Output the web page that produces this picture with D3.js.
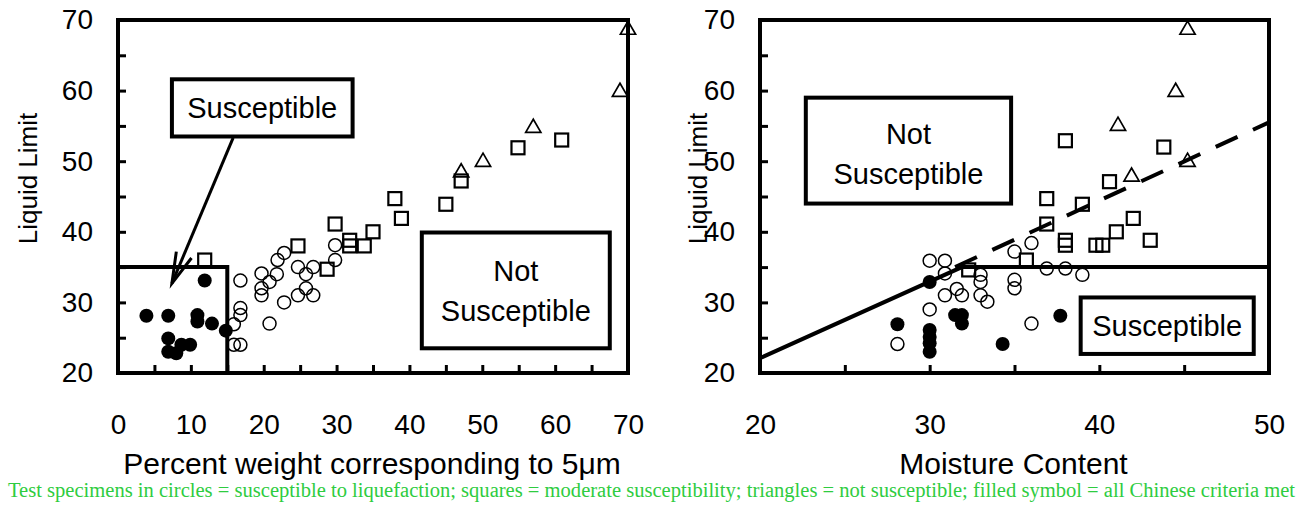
<!DOCTYPE html>
<html>
<head>
<meta charset="utf-8">
<script src="https://cdn.jsdelivr.net/npm/d3@7"></script>
<style>
  html, body { margin: 0; padding: 0; background: #fff; }
  svg { display: block; }
  text { font-family: "Liberation Sans", Arial, sans-serif; fill: #000; }
</style>
</head>
<body>
<svg id="chart" width="1304" height="505"></svg>
<script>
// ---- Axis ticks ----
const liquidLimitMajor = [20, 30, 40, 50, 60, 70];
const liquidLimitMinor = [20, 25, 30, 35, 40, 45, 50, 55, 60, 65, 70];
const finesMajor = [0, 10, 20, 30, 40, 50, 60, 70];
const finesMinor = [0, 5, 10, 15, 20, 25, 30, 35, 40, 45, 50, 55, 60, 65, 70];
const moistureMajor = [20, 30, 40, 50];
const moistureMinor = [20, 25, 30, 35, 40, 45, 50];

// ---- Left panel: [percent weight finer than 5 µm, liquid limit] ----
const finesFilled = [
  [3.9, 28.1], [6.9, 28.1], [10.9, 28.2], [10.9, 27.3], [12.9, 27.0], [14.8, 26.0],
  [11.9, 33.1], [6.9, 24.9], [6.9, 23.0], [8.0, 22.8], [8.7, 24.0], [9.9, 24.0]
];
const finesCircles = [
  [16.8, 33.1], [16.8, 29.2], [16.8, 28.2], [15.9, 26.9], [15.9, 24.0], [16.8, 24.0],
  [19.7, 34.1], [19.7, 32.0], [19.7, 31.0], [20.8, 32.9], [21.8, 34.0], [21.9, 36.0],
  [22.8, 37.0], [20.8, 27.0], [22.8, 30.0], [24.7, 35.0], [24.7, 31.0], [25.8, 34.0],
  [25.8, 32.0], [26.8, 35.0], [26.8, 31.0], [29.8, 38.1], [29.8, 36.0]
];
const finesSquares = [
  [11.9, 36.0], [24.7, 38.0], [28.7, 34.7], [29.8, 41.1], [31.8, 38.8], [31.8, 38.0],
  [33.8, 38.0], [35.0, 40.0], [38.0, 44.7], [38.9, 41.9], [45.0, 43.9], [47.1, 47.2],
  [54.9, 51.9], [60.9, 53.0]
];
const finesTriangles = [
  [47.1, 48.4], [50.1, 49.9], [57.0, 54.7], [68.9, 59.8], [70.0, 68.6]
];

// ---- Right panel: [moisture content, liquid limit] ----
const moistureFilled = [
  [30.0, 32.9], [28.1, 26.9], [30.0, 26.1], [30.0, 25.1], [30.0, 24.2], [30.0, 23.0],
  [31.5, 28.2], [31.9, 28.2], [31.9, 27.0], [34.3, 24.1], [37.7, 28.1]
];
const moistureCircles = [
  [30.0, 35.9], [30.9, 35.9], [30.9, 34.1], [33.0, 33.9], [33.0, 32.9], [31.6, 31.9],
  [31.9, 31.0], [30.9, 31.0], [33.0, 31.0], [33.4, 30.1], [30.0, 29.0], [28.1, 24.1],
  [35.0, 37.2], [36.0, 38.4], [35.0, 33.2], [35.0, 32.0], [36.9, 34.8], [38.0, 34.8],
  [39.0, 33.9], [36.0, 27.0]
];
const moistureSquares = [
  [32.3, 34.6], [35.7, 36.0], [36.9, 41.1], [38.0, 38.8], [38.0, 38.1], [39.8, 38.1],
  [40.2, 38.1], [41.0, 40.0], [42.0, 41.9], [43.0, 38.8], [38.0, 52.9], [43.8, 52.0],
  [40.6, 47.1], [36.9, 44.7], [39.0, 43.9]
];
const moistureTriangles = [
  [41.9, 47.8], [45.2, 49.9], [41.1, 55.0], [44.5, 59.8], [45.2, 68.6]
];

// ---- Criteria boundaries (right panel) ----
const boundarySolid = [[20, 22.1], [31.9, 35], [50, 35]];
const boundaryDashed = [[31.5, 35], [50, 55.5]];

// ---- Annotation boxes, in data units: [x0, x1, yTop, yBottom] ----
const finesZone = [0, 15, 35, 20];
const finesSusceptibleBox = [7.4, 32.2, 61.6, 53.5];
const finesArrow = [[15.8, 53.3], [7.4, 32.7]];
const finesNotBox = [41.7, 67.5, 39.9, 23.5];
const moistureNotBox = [22.7, 34.8, 59.0, 44.0];
const moistureSusceptibleBox = [38.9, 49.1, 30.7, 22.7];

const footerText = "Test specimens in circles = susceptible to liquefaction; squares = moderate susceptibility; triangles = not susceptible; filled symbol = all Chinese criteria met";

const svg = d3.select("#chart");

const y = d3.scaleLinear().domain([20, 70]).range([373, 20]);
const xL = d3.scaleLinear().domain([0, 70]).range([118, 628]);
const xR = d3.scaleLinear().domain([20, 50]).range([760, 1269]);

function drawPanel(x, xMajor, xMinor, xTitle, yTitleX) {
  const g = svg.append("g");

  // y axis with inward ticks
  const ya = g.append("g")
    .attr("transform", `translate(${x.range()[0]},0)`)
    .call(d3.axisLeft(y).tickValues(liquidLimitMinor).tickSize(-8).tickPadding(25)
      .tickFormat(d => liquidLimitMajor.includes(d) ? d : ""));
  ya.select(".domain").remove();
  ya.selectAll(".tick line").attr("stroke", "#000").attr("stroke-width", 3);
  ya.selectAll(".tick text").style("font-size", "28px").attr("font-family", null);

  // x axis with inward ticks
  const xa = g.append("g")
    .attr("transform", `translate(0,${y.range()[0]})`)
    .call(d3.axisBottom(x).tickValues(xMinor).tickSize(-8).tickPadding(41)
      .tickFormat(d => xMajor.includes(d) ? d : ""));
  xa.select(".domain").remove();
  xa.selectAll(".tick line").attr("stroke", "#000").attr("stroke-width", 3);
  xa.selectAll(".tick text").style("font-size", "28px").attr("font-family", null);

  // plot frame
  g.append("rect")
    .attr("x", x.range()[0]).attr("y", y.range()[1])
    .attr("width", x.range()[1] - x.range()[0])
    .attr("height", y.range()[0] - y.range()[1])
    .attr("fill", "none").attr("stroke", "#000").attr("stroke-width", 4);

  // axis titles
  g.append("text")
    .attr("x", (x.range()[0] + x.range()[1]) / 2 - 1)
    .attr("y", 474)
    .attr("text-anchor", "middle")
    .style("font-size", "30px")
    .text(xTitle);
  g.append("text")
    .attr("transform", `translate(${yTitleX},${(y.range()[0] + y.range()[1]) / 2 - 18}) rotate(-90)`)
    .attr("text-anchor", "middle")
    .style("font-size", "26px")
    .text("Liquid Limit");
  return g;
}

function drawPoints(g, x, filled, circles, squares, triangles) {
  g.append("g").selectAll("circle").data(circles).join("circle")
    .attr("cx", d => x(d[0])).attr("cy", d => y(d[1])).attr("r", 6.5)
    .attr("fill", "none").attr("stroke", "#000").attr("stroke-width", 1.5);
  g.append("g").selectAll("rect").data(squares).join("rect")
    .attr("x", d => x(d[0]) - 6.5).attr("y", d => y(d[1]) - 6.5)
    .attr("width", 13).attr("height", 13)
    .attr("fill", "none").attr("stroke", "#000").attr("stroke-width", 2.2);
  const tri = d3.symbol().type(d3.symbolTriangle).size(100);
  g.append("g").selectAll("path").data(triangles).join("path")
    .attr("transform", d => `translate(${x(d[0])},${y(d[1])})`)
    .attr("d", tri)
    .attr("fill", "none").attr("stroke", "#000").attr("stroke-width", 1.7);
  g.append("g").selectAll("circle").data(filled).join("circle")
    .attr("cx", d => x(d[0])).attr("cy", d => y(d[1])).attr("r", 7)
    .attr("fill", "#000");
}

function drawBox(g, x, box, lines, offsets) {
  const [x0, x1, yt, yb] = box;
  g.append("rect")
    .attr("x", x(x0)).attr("y", y(yt))
    .attr("width", x(x1) - x(x0)).attr("height", y(yb) - y(yt))
    .attr("fill", "#fff").attr("stroke", "#000").attr("stroke-width", 4);
  const cx = (x(x0) + x(x1)) / 2;
  const cy = (y(yt) + y(yb)) / 2;
  lines.forEach((t, i) => {
    g.append("text")
      .attr("x", cx).attr("y", cy + offsets[i])
      .attr("text-anchor", "middle")
      .style("font-size", "29px")
      .text(t);
  });
}

// ---------- Left panel ----------
const left = drawPanel(xL, finesMajor, finesMinor, "Percent weight corresponding to 5\u03bcm", 37);
drawPoints(left, xL, finesFilled, finesCircles, finesSquares, finesTriangles);

// susceptible zone outline (fines < 15 %, LL < 35)
left.append("path")
  .attr("d", d3.line()([[xL(finesZone[0]), y(finesZone[2])], [xL(finesZone[1]), y(finesZone[2])], [xL(finesZone[1]), y(finesZone[3])]]))
  .attr("fill", "none").attr("stroke", "#000").attr("stroke-width", 4);

// arrow from label to zone
{
  const [p0, p1] = finesArrow.map(d => [xL(d[0]), y(d[1])]);
  const ang = Math.atan2(p1[1] - p0[1], p1[0] - p0[0]);
  const len = 32, spread = 0.26;
  left.append("line")
    .attr("x1", p0[0]).attr("y1", p0[1]).attr("x2", p1[0]).attr("y2", p1[1])
    .attr("stroke", "#000").attr("stroke-width", 3);
  left.append("path")
    .attr("d", d3.line()([
      [p1[0] - len * Math.cos(ang - spread), p1[1] - len * Math.sin(ang - spread)],
      p1,
      [p1[0] - len * Math.cos(ang + spread), p1[1] - len * Math.sin(ang + spread)]
    ]))
    .attr("fill", "none").attr("stroke", "#000").attr("stroke-width", 3);
}
drawBox(left, xL, finesSusceptibleBox, ["Susceptible"], [10]);
drawBox(left, xL, finesNotBox, ["Not", "Susceptible"], [-9, 31]);

// ---------- Right panel ----------
const right = drawPanel(xR, moistureMajor, moistureMinor, "Moisture Content", 707);
drawPoints(right, xR, moistureFilled, moistureCircles, moistureSquares, moistureTriangles);

right.append("path")
  .attr("d", d3.line().x(d => xR(d[0])).y(d => y(d[1]))(boundarySolid))
  .attr("fill", "none").attr("stroke", "#000").attr("stroke-width", 4)
  .attr("stroke-linejoin", "miter");
right.append("path")
  .attr("d", d3.line().x(d => xR(d[0])).y(d => y(d[1]))(boundaryDashed))
  .attr("fill", "none").attr("stroke", "#000").attr("stroke-width", 4)
  .attr("stroke-dasharray", "24,17");

drawBox(right, xR, moistureNotBox, ["Not", "Susceptible"], [-7, 33]);
drawBox(right, xR, moistureSusceptibleBox, ["Susceptible"], [10]);

// ---------- Footnote ----------
svg.append("text")
  .attr("x", 8).attr("y", 497)
  .attr("textLength", 1287).attr("lengthAdjust", "spacingAndGlyphs")
  .style("font-family", "'Liberation Serif', 'Times New Roman', serif")
  .style("font-size", "20px")
  .style("fill", "#2ecc40")
  .text(footerText);
</script>
</body>
</html>
